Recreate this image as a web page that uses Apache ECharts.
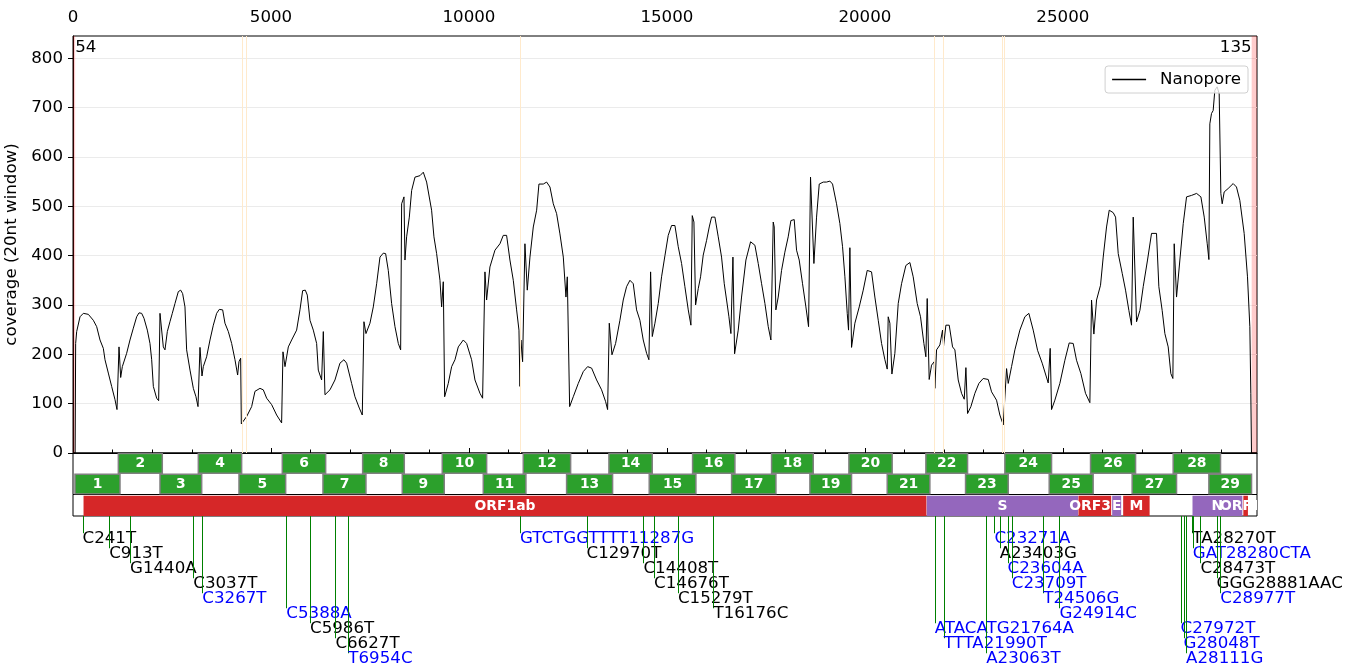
<!DOCTYPE html>
<html><head><meta charset="utf-8">
<script src="https://cdn.jsdelivr.net/npm/echarts@6/dist/echarts.min.js"></script>
<style>html,body{margin:0;padding:0;background:#fff}#c{width:1361px;height:666px}</style>
</head><body><div id="c"></div>
<script>
const genomeLength = 29903;
const yMax = 845;
const xMajorTicks = [0, 5000, 10000, 15000, 20000, 25000];
const xMinorTicks = [1000,2000,3000,4000,6000,7000,8000,9000,11000,12000,13000,14000,16000,17000,18000,19000,21000,22000,23000,24000,26000,27000,28000,29000];
const yTicks = [0, 100, 200, 300, 400, 500, 600, 700, 800];

const covPos = [
  0,54,67,93,177,261,387,513,598,682,
  766,808,892,976,1061,1111,1162,1204,1246,1355,
  1439,1524,1608,1667,1734,1793,1877,1944,1987,2029,
  2113,2163,2197,2231,2281,2323,2382,2449,2508,2576,
  2660,2719,2769,2828,2870,2955,3039,3106,3157,3207,
  3258,3291,3375,3460,3544,3628,3695,3780,3838,3923,
  4007,4091,4158,4192,4234,4251,4386,4512,4596,4722,
  4806,4891,5017,5143,5269,5303,5354,5438,5522,5648,
  5732,5800,5867,5917,5985,6069,6153,6195,6279,6322,
  6364,6490,6616,6742,6843,6911,7037,7121,7231,7306,
  7348,7399,7500,7584,7669,7753,7837,7896,7963,8047,
  8132,8216,8275,8300,8359,8384,8426,8494,8553,8637,
  8763,8847,8931,9057,9116,9184,9268,9310,9352,9386,
  9478,9563,9647,9731,9857,9941,10067,10152,10278,10345,
  10404,10446,10530,10657,10783,10867,10951,11035,11120,11204,
  11263,11288,11313,11355,11414,11473,11541,11625,11710,11768,
  11878,11962,12046,12130,12214,12298,12383,12450,12484,12543,
  12635,12761,12888,12997,13098,13224,13350,13452,13502,13544,
  13586,13612,13704,13813,13897,13981,14066,14150,14234,14318,
  14402,14487,14545,14588,14630,14697,14781,14865,14950,15033,
  15118,15202,15286,15370,15454,15539,15606,15640,15682,15724,
  15791,15850,15917,16002,16069,16128,16212,16296,16380,16448,
  16507,16566,16616,16667,16709,16801,16885,16995,17113,17222,
  17306,17391,17475,17559,17626,17685,17710,17752,17811,17895,
  17979,18063,18131,18215,18274,18341,18425,18510,18577,18627,
  18670,18712,18779,18847,18948,19032,19116,19183,19284,19368,
  19436,19495,19554,19587,19621,19663,19747,19857,19958,20059,
  20168,20252,20337,20421,20505,20564,20589,20631,20682,20757,
  20842,20926,21035,21136,21220,21321,21405,21490,21540,21574,
  21607,21624,21683,21751,21767,21810,21894,21961,21987,22046,
  22130,22214,22273,22357,22441,22509,22551,22593,22677,22778,
  22879,22988,23115,23199,23325,23409,23494,23536,23578,23620,
  23704,23788,23914,24040,24141,24251,24361,24478,24630,24680,
  24714,24798,24924,25051,25160,25261,25345,25455,25572,25682,
  25724,25783,25851,25951,26019,26103,26171,26272,26331,26398,
  26499,26583,26667,26734,26777,26819,26861,26946,27029,27138,
  27239,27365,27424,27508,27576,27660,27727,27778,27812,27871,
  27955,28040,28124,28250,28377,28486,28570,28646,28688,28712,
  28754,28796,28838,28897,28948,28990,29024,29074,29175,29301,
  29385,29469,29579,29663,29722,29747,29764,29903
];
const covVal = [
  0,0,222,246,276,283,281,269,256,229,
  212,189,162,135,108,88,215,153,175,202,
  229,253,276,284,283,273,249,222,189,135,
  111,106,283,279,215,209,246,266,283,303,
  327,330,323,296,209,168,131,114,94,214,
  156,175,195,229,259,283,291,290,263,246,
  222,189,158,185,192,59,74,94,125,131,
  128,111,98,77,61,205,175,215,229,249,
  290,329,330,320,269,249,222,168,148,246,
  118,128,148,182,189,182,141,114,91,77,
  266,242,263,296,343,397,405,404,370,303,
  256,222,209,505,519,391,438,478,532,559,
  562,569,549,492,438,404,350,296,347,114,
  141,175,189,215,229,222,189,148,121,111,
  367,310,377,411,424,441,441,391,350,290,
  249,135,229,185,424,330,397,458,492,545,
  545,549,539,505,485,444,397,316,357,94,
  114,141,165,175,172,148,128,104,88,263,
  263,199,222,269,310,337,350,343,290,269,
  229,202,189,367,236,263,303,357,400,441,
  461,461,418,384,337,290,259,481,468,300,
  333,357,401,431,458,478,478,438,397,343,
  310,276,242,397,201,249,316,391,428,421,
  384,343,303,256,229,468,458,290,316,370,
  407,438,471,473,411,391,343,296,256,559,
  562,384,478,545,549,549,551,545,505,465,
  418,357,283,249,416,214,263,296,330,370,
  367,316,269,222,189,170,276,263,160,202,
  303,343,380,386,357,303,276,222,195,313,
  310,149,178,185,131,209,219,249,217,259,
  259,215,209,148,121,109,173,80,94,121,
  141,151,149,124,107,77,57,55,171,141,
  175,209,249,276,283,249,208,182,142,212,
  88,107,141,188,223,222,188,161,121,102,
  310,241,310,340,397,458,492,487,478,404,
  364,330,289,259,478,478,266,289,337,391,
  445,445,337,289,242,215,161,151,424,316,
  391,465,519,522,526,519,478,424,392,667,
  688,694,735,742,728,526,505,529,536,546,
  539,512,445,357,256,121,0,0
];

const lowCovStart = [0, 29768];
const lowCovEnd = [54, 29903];
const markedPos = [4280, 4381, 11300, 21764, 21990, 23477, 23518];

const ampStart = [50,1145,2197,3165,4192,5286,6313,7315,8316,9326,10362,11372,12466,13535,14553,15648,16633,17643,18611,19596,20564,21540,22542,23535,24655,25699,26750,27786,28687];
const ampEnd   = [1187,2255,3250,4259,5371,6381,7399,8367,9377,10447,11439,12568,13628,14629,15732,16717,17753,18695,19663,20689,21641,22593,23620,24714,25765,26836,27871,28982,29765];

const geneNames = ['ORF1ab', 'S', 'ORF3a', 'E', 'M', 'N', 'ORF10'];
const geneStart = [266, 21563, 25393, 26245, 26523, 28274, 29558];
const geneEnd   = [21555, 25384, 26220, 26472, 27191, 29533, 29674];

const mutPos = [241,913,1440,3037,3267,5388,5986,6627,6954,11287,12970,14408,14676,15279,16176,21764,21990,23063,23271,23403,23604,23709,24506,24914,27972,28048,28111,28270,28280,28473,28881,28977];
const mutLabel = ['C241T','C913T','G1440A','C3037T','C3267T','C5388A','C5986T','C6627T','T6954C','GTCTGGTTTT11287G','C12970T','C14408T','C14676T','C15279T','T16176C','ATACATG21764A','TTTA21990T','A23063T','C23271A','A23403G','C23604A','C23709T','T24506G','G24914C','C27972T','G28048T','A28111G','TA28270T','GAT28280CTA','C28473T','GGG28881AAC','C28977T'];
const mutLineage = [0,0,0,0,1,1,0,0,1,1,0,0,0,0,0,1,1,1,1,0,1,1,1,1,1,1,1,0,1,0,0,1];

const FONT = 'DejaVu Sans';
const FS = 16.67;
const GL = 73, GW = 1184;
const chart = echarts.init(document.getElementById('c'), null, {renderer: 'canvas'});

const hiddenX = (g) => ({gridIndex: g, type: 'value', min: 0, max: genomeLength, show: false});
const gridBase = {left: GL, width: GW, containLabel: false, outerBoundsMode: 'none'};

const option = {
  animation: false,
  backgroundColor: '#fff',
  textStyle: {fontFamily: FONT},
  legend: {
    data: [{name: 'Nanopore', icon: 'rect'}],
    right: 113, top: 66,
    itemWidth: 34, itemHeight: 1.3,
    padding: [5, 7],
    backgroundColor: 'rgba(255,255,255,0.8)',
    borderColor: '#d0d0d0', borderWidth: 1, borderRadius: 3,
    selectedMode: false,
    textStyle: {fontSize: FS, fontFamily: FONT, color: '#000', padding: [0, 0, 0, 9]}
  },
  grid: [
    Object.assign({}, gridBase, {top: 36, height: 417, show: true, borderColor: '#000', borderWidth: 1}),
    Object.assign({}, gridBase, {top: 453, height: 41.5, show: true, borderColor: '#000', borderWidth: 1}),
    Object.assign({}, gridBase, {top: 494.5, height: 21.5, show: true, borderColor: '#000', borderWidth: 1}),
    Object.assign({}, gridBase, {top: 516, height: 150, show: false}),
    Object.assign({}, gridBase, {top: 36, height: 417, show: false})
  ],
  xAxis: [
    {gridIndex: 0, type: 'value', position: 'top', min: 0, max: genomeLength,
     axisLine: {show: true, lineStyle: {color: '#000'}},
     axisTick: {show: true, length: 5, lineStyle: {color: '#000'}, customValues: xMajorTicks},
     axisLabel: {fontSize: FS, color: '#000', margin: 10, fontFamily: FONT, customValues: xMajorTicks,
                 formatter: v => String(v)},
     splitLine: {show: false}},
    hiddenX(1), hiddenX(2), hiddenX(3),
    {gridIndex: 4, type: 'value', position: 'top', min: 0, max: genomeLength,
     axisLine: {show: false},
     axisTick: {show: true, length: 3.5, lineStyle: {color: '#000'}, customValues: xMinorTicks},
     axisLabel: {show: false},
     splitLine: {show: false}}
  ],
  yAxis: [
    {gridIndex: 0, type: 'value', min: 0, max: yMax,
     name: 'coverage (20nt window)', nameLocation: 'middle', nameGap: 46,
     nameTextStyle: {fontSize: FS, color: '#000', fontFamily: FONT},
     axisLine: {show: true, lineStyle: {color: '#000'}},
     axisTick: {show: true, length: 5, lineStyle: {color: '#000'}, customValues: yTicks},
     axisLabel: {fontSize: FS, color: '#000', margin: 10, fontFamily: FONT, customValues: yTicks,
                 formatter: v => String(v)},
     splitLine: {show: true, lineStyle: {color: '#ebebeb', width: 1}}},
    {gridIndex: 1, type: 'value', min: 0, max: 2, inverse: true, show: false},
    {gridIndex: 2, type: 'value', min: 0, max: 1, inverse: true, show: false},
    {gridIndex: 3, type: 'value', min: -1.48, max: 8.52, inverse: true, show: false},
    {gridIndex: 4, type: 'value', min: 0, max: 1, show: false}
  ],
  series: [
    {
      type: 'line', name: 'Nanopore', xAxisIndex: 0, yAxisIndex: 0,
      data: covPos.map((p, i) => [p, covVal[i]]),
      showSymbol: false, symbol: 'none', color: '#000',
      lineStyle: {color: '#000', width: 1},
      markArea: {silent: true, itemStyle: {color: 'rgba(255,0,0,0.2)'},
        data: lowCovStart.map((s, i) => [{xAxis: s}, {xAxis: lowCovEnd[i]}])},
      markLine: {silent: true, symbol: ['none', 'none'], label: {show: false},
        lineStyle: {color: '#ffeacc', type: 'solid', width: 1, opacity: 1},
        emphasis: {disabled: true},
        data: markedPos.map(v => ({xAxis: v}))}
    },
    {
      type: 'custom', xAxisIndex: 0, yAxisIndex: 0, silent: true,
      data: lowCovStart.map((s, i) => [s, lowCovEnd[i]]),
      renderItem: (params, api) => {
        const s = api.value(0), e = api.value(1);
        const atStart = s === 0;
        const p = api.coord([atStart ? e : s, yMax]);
        return {type: 'text', style: {text: String(e - s), x: p[0], y: p[1] + 3,
          align: atStart ? 'left' : 'right', verticalAlign: 'top', fill: '#000',
          font: FS + 'px "' + FONT + '"'}};
      }
    },
    {
      type: 'custom', xAxisIndex: 1, yAxisIndex: 1, silent: true, clip: true,
      encode: {x: [0, 1], y: 2},
      data: ampStart.map((s, i) => [s, ampEnd[i], (i + 1) % 2 === 0 ? 0 : 1, i + 1]),
      renderItem: (params, api) => {
        const s = api.value(0), e = api.value(1), row = api.value(2);
        const p0 = api.coord([s, row + 0.03]);
        const p1 = api.coord([e, row + 0.97]);
        return {type: 'group', children: [
          {type: 'rect', shape: {x: p0[0], y: Math.min(p0[1], p1[1]), width: p1[0] - p0[0], height: Math.abs(p1[1] - p0[1])},
           style: {fill: '#2ca02c', stroke: '#808080', lineWidth: 1.5}},
          {type: 'text', style: {text: String(api.value(3)), x: (p0[0] + p1[0]) / 2, y: (p0[1] + p1[1]) / 2 + 0.5,
           align: 'center', verticalAlign: 'middle', fill: '#fff', font: 'bold 13.9px "' + FONT + '"'}}
        ]};
      }
    },
    {
      type: 'custom', xAxisIndex: 2, yAxisIndex: 2, silent: true, clip: true,
      encode: {x: [0, 1]},
      data: geneStart.map((s, i) => [s, geneEnd[i]]),
      renderItem: (params, api) => {
        const i = params.dataIndex;
        const p0 = api.coord([api.value(0), 0.06]);
        const p1 = api.coord([api.value(1), 1]);
        return {type: 'group', children: [
          {type: 'rect', shape: {x: p0[0], y: Math.min(p0[1], p1[1]), width: p1[0] - p0[0], height: Math.abs(p1[1] - p0[1])},
           style: {fill: i % 2 === 0 ? '#d62728' : '#9467bd'}},
          {type: 'text', style: {text: geneNames[i], x: (p0[0] + p1[0]) / 2, y: (p0[1] + p1[1]) / 2 + 0.5,
           align: 'center', verticalAlign: 'middle', fill: '#fff', font: 'bold 13.9px "' + FONT + '"'}}
        ]};
      }
    },
    {
      type: 'custom', xAxisIndex: 3, yAxisIndex: 3, silent: true, clip: false,
      data: mutPos.map((p, i) => [p, i % 9]),
      renderItem: (params, api) => {
        const i = params.dataIndex;
        const x = api.value(0), lvl = api.value(1);
        const top = api.coord([x, -1.48]);
        const end = api.coord([x, lvl - 0.33]);
        const c = api.coord([x, lvl]);
        const xx = Math.round(top[0]) + 0.5;
        return {type: 'group', children: [
          {type: 'line', shape: {x1: xx, y1: top[1], x2: xx, y2: end[1]}, style: {stroke: '#008000', lineWidth: 1}},
          {type: 'text', style: {text: mutLabel[i], x: c[0], y: c[1], align: 'left', verticalAlign: 'middle',
           fill: mutLineage[i] ? '#0000ff' : '#000', font: FS + 'px "' + FONT + '"'}}
        ]};
      }
    }
  ]
};
chart.setOption(option);
</script>
</body></html>
